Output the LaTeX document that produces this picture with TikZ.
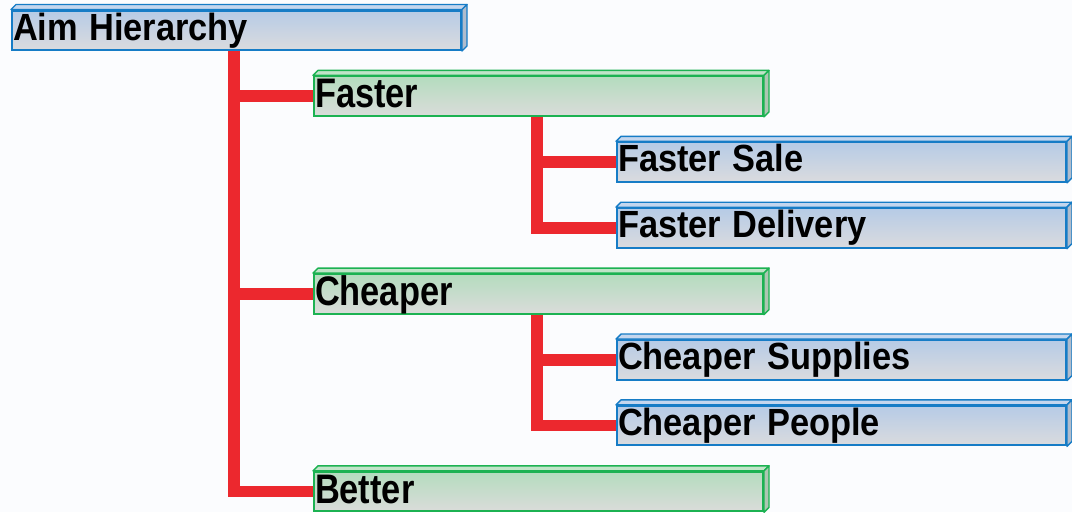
\documentclass[tikz,border=0pt]{standalone}
\usepackage{fontspec}
\setmainfont{Liberation Sans}
\usetikzlibrary{calc}
\pgfdeclarelayer{bg}
\pgfsetlayers{bg,main}
\definecolor{bgc}{RGB}{251,252,254}
\definecolor{redl}{RGB}{236,40,46}
\definecolor{bluetop}{RGB}{182,203,230}
\definecolor{bluebot}{RGB}{218,219,222}
\definecolor{blueedge}{RGB}{22,124,198}
\definecolor{bluelid}{RGB}{196,214,238}
\definecolor{greentop}{RGB}{180,220,190}
\definecolor{greenbot}{RGB}{218,220,218}
\definecolor{greenedge}{RGB}{28,178,82}
\definecolor{greenlid}{RGB}{192,228,200}
\tikzset{
  slab/.style={rectangle, anchor=north west, minimum width=449pt, minimum height=39.5pt,
    inner xsep=1pt, inner ysep=0pt, text width=447pt, align=left, line width=2pt,
    font=\bfseries\fontsize{34.4}{40}\selectfont, text=black},
  blueslab/.style={slab, draw=blueedge, top color=bluetop, bottom color=bluebot,
    text height=29.5pt, text depth=10pt},
  greenslab/.style={slab, draw=greenedge, top color=greentop, bottom color=greenbot,
    text height=31.2pt, text depth=8.3pt},
  redline/.style={draw=redl, line width=11.5pt},
}
\newcommand{\lidside}[3]{%
  \filldraw[fill=#2, draw=#3, line width=1.4pt, line join=round]
    (#1.north west) -- ++(5,-5) -- ($(#1.north east)+(5,-5)$) -- (#1.north east) -- cycle;
  \filldraw[fill=#2!70!gray, draw=#3, line width=1.4pt, line join=round]
    (#1.north east) -- ++(5,-5) -- ($(#1.south east)+(5,-5)$) -- (#1.south east) -- cycle;
}
\begin{document}
\begin{tikzpicture}[x=1pt, y=-1pt]
\begin{pgfonlayer}{bg}
\fill[bgc] (0,0) rectangle (1072,512);
\end{pgfonlayer}
\useasboundingbox (0,0) rectangle (1072,512);

\path
  (11,9.5)    node[blueslab]  (aim)  {\scalebox{1}[1.1]{Aim Hierarchy}}
  (313,75.4)  node[greenslab] (faster) {\scalebox{1}[1.2]{Faster}}
  (616,141.3) node[blueslab]  (fsale) {\scalebox{1}[1.1]{Faster Sale}}
  (616,207.2) node[blueslab]  (fdel) {\scalebox{1}[1.1]{Faster Delivery}}
  (313,273.1) node[greenslab] (cheaper) {\scalebox{1}[1.2]{Cheaper}}
  (616,339)   node[blueslab]  (csup) {\scalebox{1}[1.1]{Cheaper Supplies}}
  (616,404.9) node[blueslab]  (cpeo) {\scalebox{1}[1.1]{Cheaper People}}
  (313,470.8) node[greenslab] (better) {\scalebox{1}[1.2]{Better}};

\foreach \n in {aim,fsale,fdel,csup,cpeo} {\lidside{\n}{bluelid}{blueedge}}
\foreach \n in {faster,cheaper,better} {\lidside{\n}{greenlid}{greenedge}}

\begin{pgfonlayer}{bg}
\coordinate (t1) at ([xshift=223pt]aim.south west);
\coordinate (t2) at ([xshift=224pt]faster.south west);
\coordinate (t3) at ([xshift=224pt]cheaper.south west);
\draw[redline] (t1) |- (better.west);
\draw[redline] (t1 |- faster.west) -- (faster.west);
\draw[redline] (t1 |- cheaper.west) -- (cheaper.west);
\draw[redline] (t2) |- (fdel.west);
\draw[redline] (t2 |- fsale.west) -- (fsale.west);
\draw[redline] (t3) |- (cpeo.west);
\draw[redline] (t3 |- csup.west) -- (csup.west);
\end{pgfonlayer}
\end{tikzpicture}
\end{document}
